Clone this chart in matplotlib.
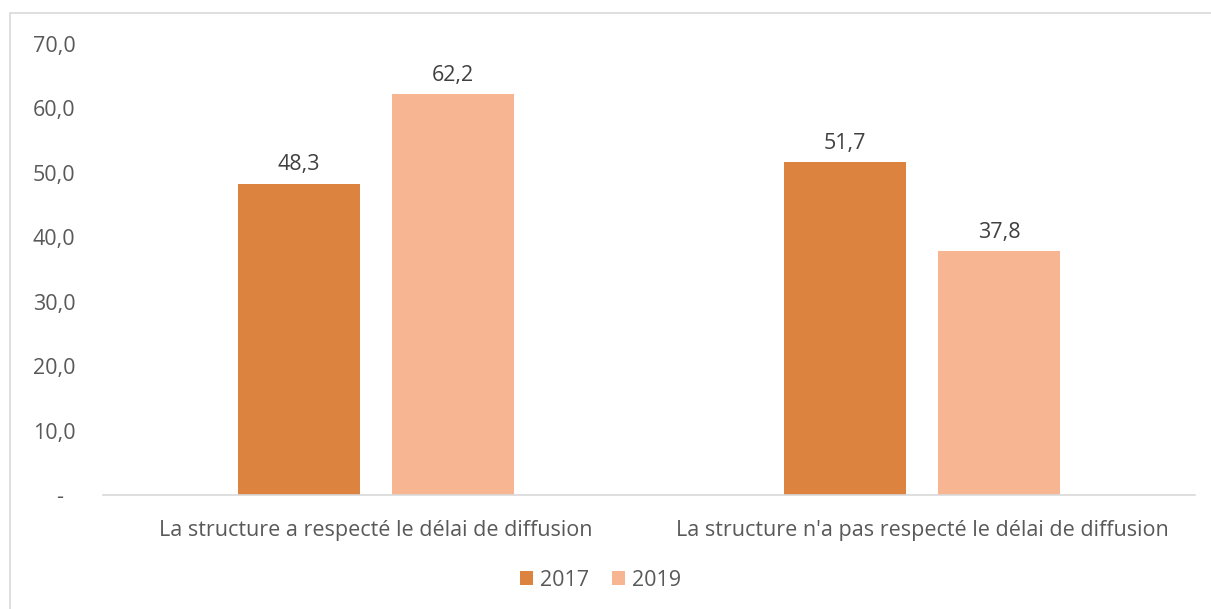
import matplotlib.pyplot as plt
from matplotlib.patches import Rectangle
from matplotlib.ticker import FuncFormatter, MultipleLocator

categories = [
    "La structure a respecté le délai de diffusion",
    "La structure n'a pas respecté le délai de diffusion",
]
series_names = ["2017", "2019"]
values_2017 = [48.3, 51.7]
values_2019 = [62.2, 37.8]

colors = ["#DB833F", "#F8B591"]
text_grey = "#595959"
label_grey = "#404040"
FS = 15.5


def fmt(v, _pos=None):
    if abs(v) < 1e-9:
        return "-  "
    return f"{v:.1f}".replace(".", ",")


def main():
    plt.rcParams["font.family"] = ["Open Sans", "DejaVu Sans"]
    fig = plt.figure(figsize=(12.11, 6.09), dpi=100)
    ax = fig.add_axes([0.0851, 0.1872, 0.9017, 0.7406])

    # outer chart border (only top/left visible in the reference)
    fig.patches.append(Rectangle((10 / 1211, -0.1), 1.2, 1 - 13 / 609 + 0.1,
                                 transform=fig.transFigure, fill=False,
                                 edgecolor="#d9d9d9", linewidth=1.2))

    width = 0.224
    offset = 0.141
    xs = range(len(categories))
    for i, (vals, name) in enumerate(zip([values_2017, values_2019], series_names)):
        pos = [x + (i * 2 - 1) * offset for x in xs]
        bars = ax.bar(pos, vals, width=width, color=colors[i], label=name)
        for b, v in zip(bars, vals):
            ax.annotate(fmt(v), (b.get_x() + b.get_width() / 2, v),
                        xytext=(0, 6), textcoords="offset points",
                        ha="center", va="bottom", fontsize=FS, color=label_grey)

    ax.set_xlim(-0.5, 1.5)
    ax.set_ylim(0, 70)
    ax.yaxis.set_major_locator(MultipleLocator(10))
    ax.yaxis.set_major_formatter(FuncFormatter(fmt))
    ax.tick_params(axis="y", length=0, pad=20, labelsize=FS, labelcolor=text_grey)
    ax.set_xticks(list(xs))
    ax.set_xticklabels(categories)
    ax.tick_params(axis="x", length=0, pad=18, labelsize=FS, labelcolor=text_grey)

    for s in ["top", "right", "left"]:
        ax.spines[s].set_visible(False)
    ax.spines["bottom"].set_color("#d9d9d9")
    ax.spines["bottom"].set_linewidth(1.2)

    fig.legend(loc="center", bbox_to_anchor=(0.496, 0.047), ncol=2, frameon=False,
               fontsize=FS, labelcolor=text_grey, handlelength=0.6, handleheight=0.6,
               handletextpad=0.3, columnspacing=1.1)

    fig.savefig("out.png", dpi=100)
    plt.close(fig)


if __name__ == "__main__":
    main()
